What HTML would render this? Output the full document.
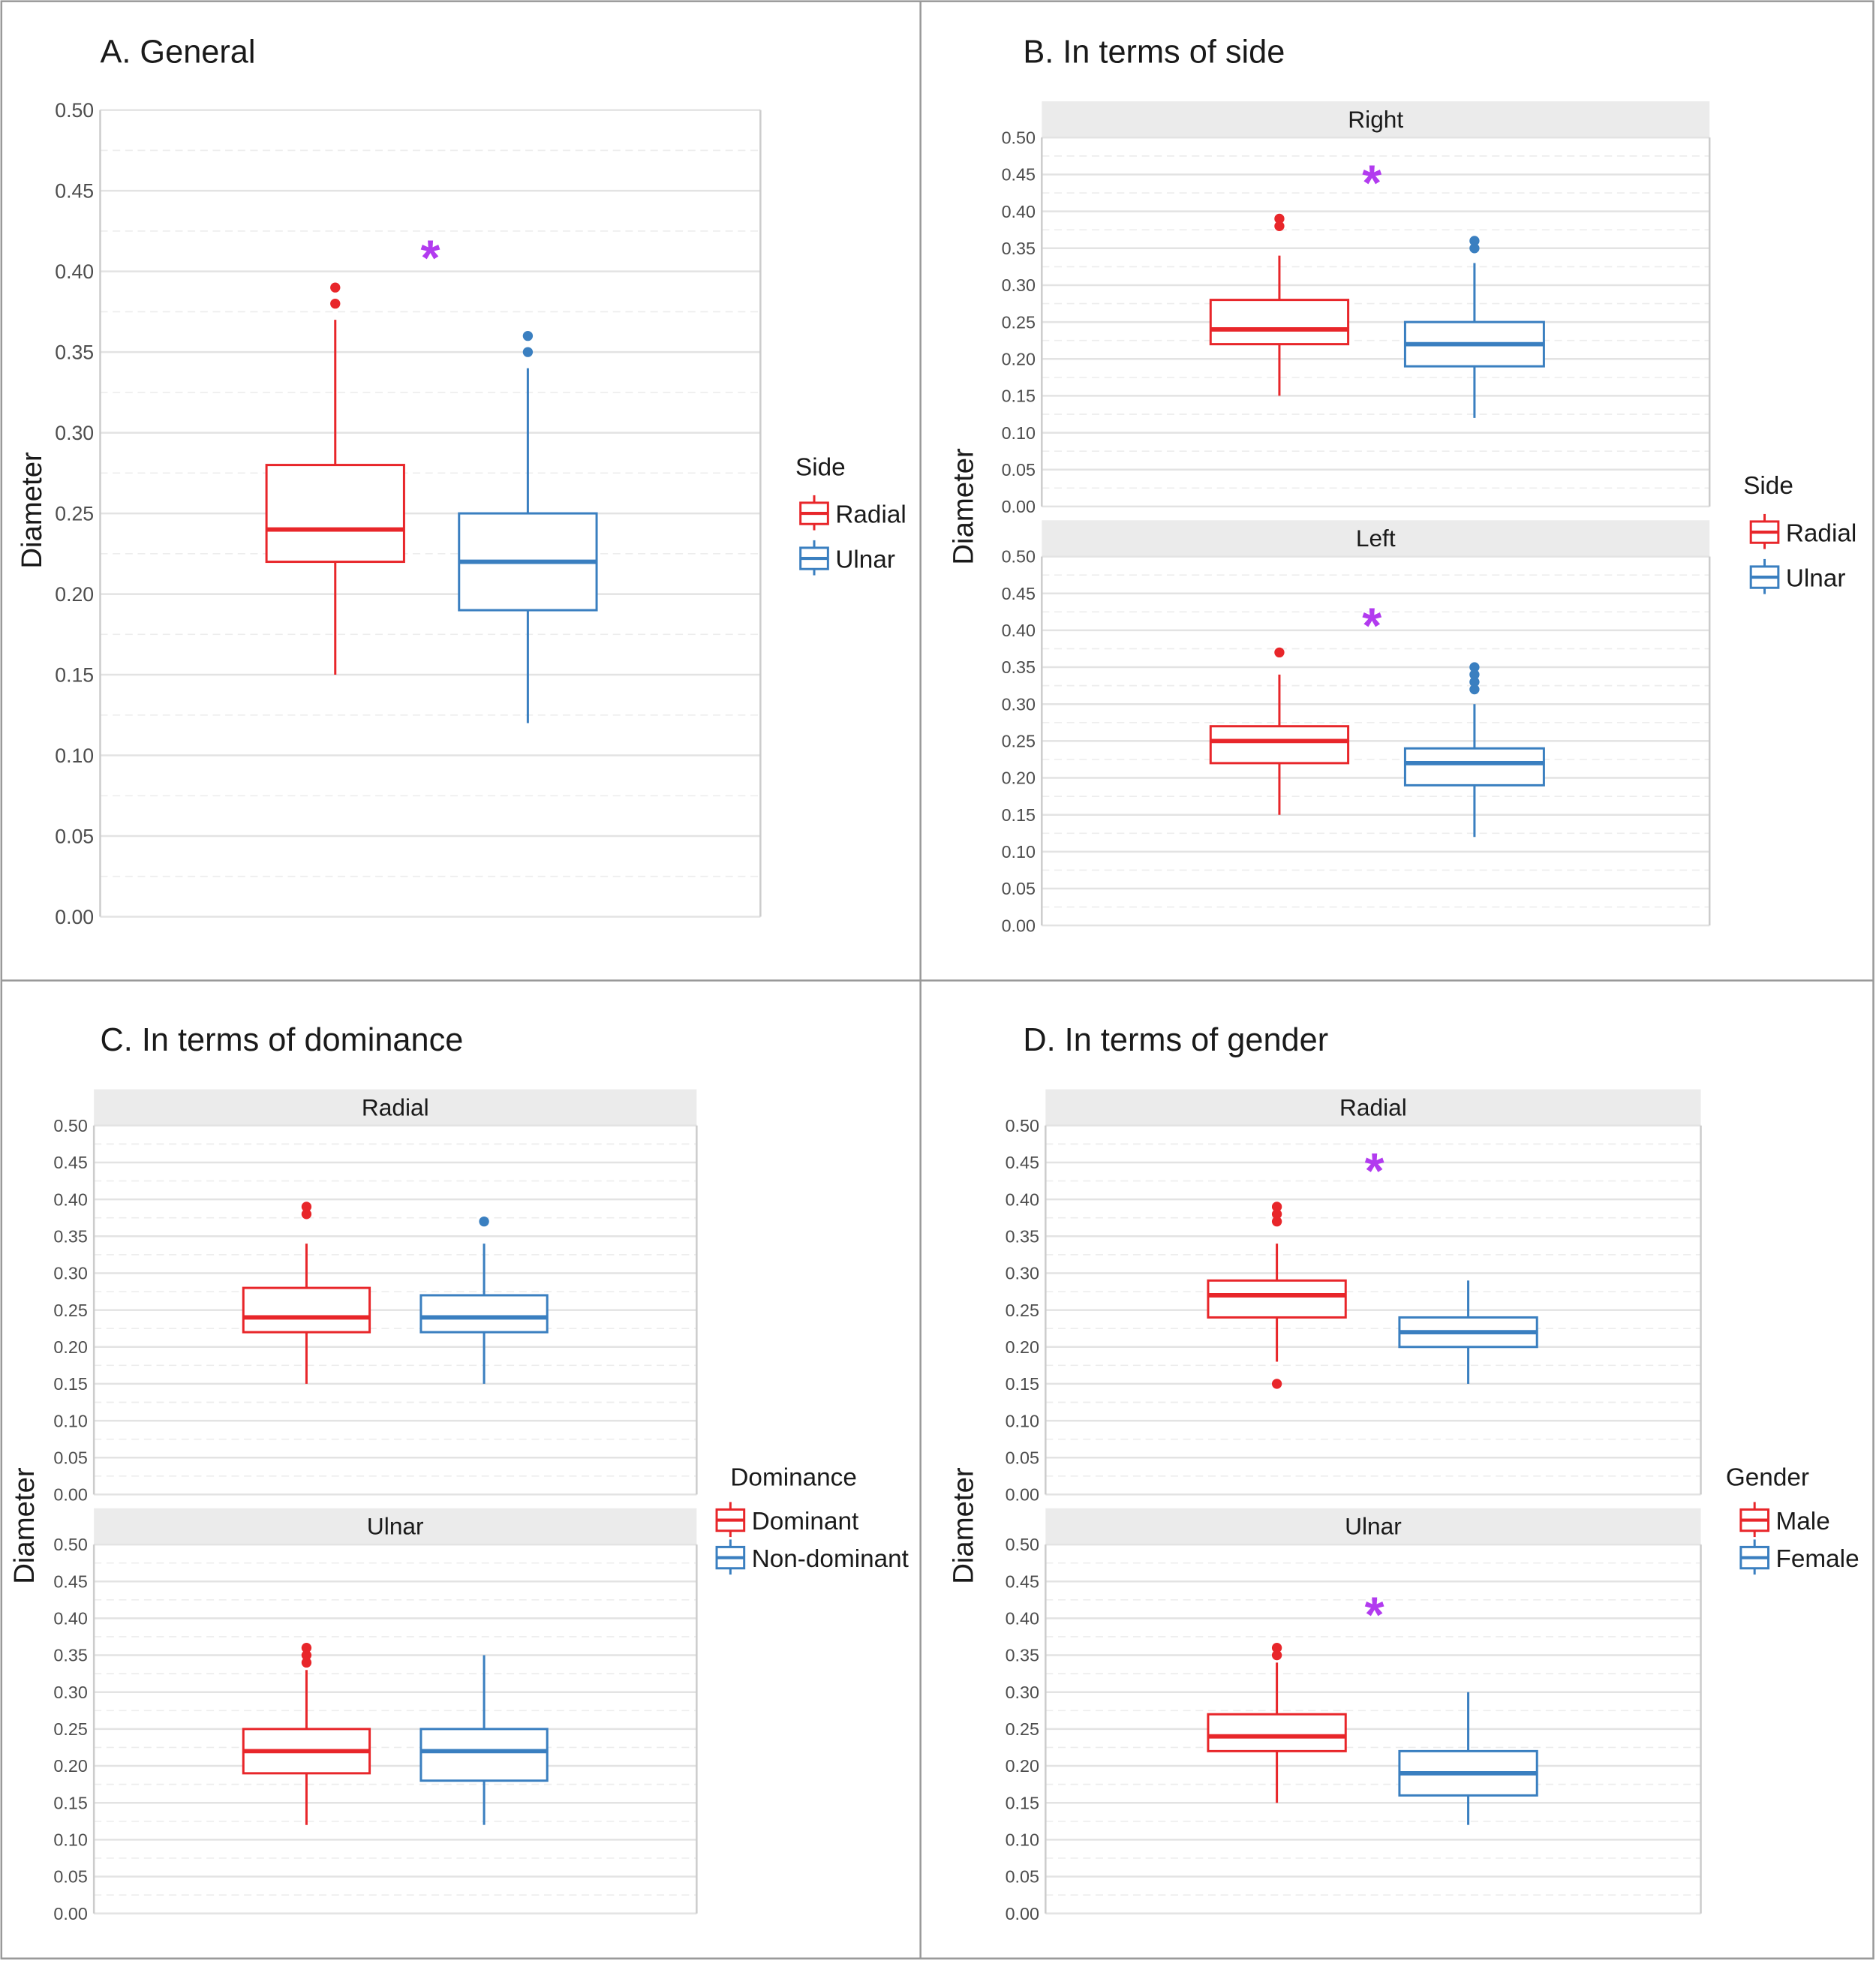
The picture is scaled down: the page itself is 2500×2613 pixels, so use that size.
<!DOCTYPE html>
<html><head><meta charset="utf-8"><style>
html,body{margin:0;padding:0;background:#fff}
svg{display:block}
text{font-family:"Liberation Sans",sans-serif}
</style></head><body>
<svg id="chart" width="2500" height="2613" viewBox="0 0 1500 1568">
<rect x="1" y="1" width="1497" height="1565" fill="#fff" stroke="#999" stroke-width="1.5"/>
<line x1="736" y1="1" x2="736" y2="1566" stroke="#999" stroke-width="1.5"/>
<line x1="1" y1="784" x2="1498" y2="784" stroke="#999" stroke-width="1.5"/>
</svg>
<script>
// ---- data ----
const yTicks = [0.00,0.05,0.10,0.15,0.20,0.25,0.30,0.35,0.40,0.45,0.50];
const yTickLabels = ["0.00","0.05","0.10","0.15","0.20","0.25","0.30","0.35","0.40","0.45","0.50"];
const panelTitles = ["A. General","B. In terms of side","C. In terms of dominance","D. In terms of gender"];
// box stats: [lowerWhisker, q1, median, q3, upperWhisker]
const generalRadial = [0.15,0.22,0.24,0.28,0.37];
const generalUlnar = [0.12,0.19,0.22,0.25,0.34];
const generalRadialOut = [0.38,0.39];
const generalUlnarOut = [0.35,0.36];
const rightRadial = [0.15,0.22,0.24,0.28,0.34];
const rightUlnar = [0.12,0.19,0.22,0.25,0.33];
const rightRadialOut = [0.38,0.39];
const rightUlnarOut = [0.35,0.36];
const leftRadial = [0.15,0.22,0.25,0.27,0.34];
const leftUlnar = [0.12,0.19,0.22,0.24,0.30];
const leftRadialOut = [0.37];
const leftUlnarOut = [0.32,0.33,0.34,0.35];
const radialDominant = [0.15,0.22,0.24,0.28,0.34];
const radialNonDominant = [0.15,0.22,0.24,0.27,0.34];
const radialDominantOut = [0.38,0.39];
const radialNonDominantOut = [0.37];
const ulnarDominant = [0.12,0.19,0.22,0.25,0.33];
const ulnarNonDominant = [0.12,0.18,0.22,0.25,0.35];
const ulnarDominantOut = [0.34,0.35,0.36];
const ulnarNonDominantOut = [];
const radialMale = [0.18,0.24,0.27,0.29,0.34];
const radialFemale = [0.15,0.20,0.22,0.24,0.29];
const radialMaleOut = [0.15,0.37,0.38,0.39];
const radialFemaleOut = [];
const ulnarMale = [0.15,0.22,0.24,0.27,0.34];
const ulnarFemale = [0.12,0.16,0.19,0.22,0.30];
const ulnarMaleOut = [0.35,0.36];
const ulnarFemaleOut = [];

const RED="#e8262a", BLUE="#3a7fc0", NS="http://www.w3.org/2000/svg";
const svg=document.getElementById('chart');
function mk(tag,attrs,parent,txt){const e=document.createElementNS(NS,tag);for(const k in attrs)e.setAttribute(k,attrs[k]);if(txt!==undefined)e.textContent=txt;(parent||svg).appendChild(e);return e;}

function panel(x0,x1,yTop,yBot,fs,name,strip){
  const g=mk('g',{});
  
  
  const ys=v=>yBot-(v/0.5)*(yBot-yTop);
  if(strip){
    const s=mk('rect',{x:x0,y:yTop-29,width:x1-x0,height:29,fill:'#ebebeb'},g);
    
    
    const st=mk('text',{x:(x0+x1)/2,y:yTop-8,'font-size':19,'text-anchor':'middle',fill:'#1a1a1a'},g,strip);
    
    
  }
  for(let i=0;i<yTicks.length;i++){
    const y=ys(yTicks[i]);
    const gl=mk('line',{x1:x0,x2:x1,y1:y,y2:y,stroke:'#e3e3e3','stroke-width':1.5},g);
    
    
    if(i<yTicks.length-1){const ym=ys(yTicks[i]+0.025);
      const mn=mk('line',{x1:x0,x2:x1,y1:ym,y2:ym,stroke:'#ededed','stroke-width':1,'stroke-dasharray':'6,4'},g);
      
      }
    const t=mk('text',{x:x0-5,y:y+fs*0.35,'font-size':fs,'text-anchor':'end',fill:'#4d4d4d'},g,yTickLabels[i]);
    
    
  }
  mk('line',{x1:x0,x2:x0,y1:yTop,y2:yBot,stroke:'#ccc','stroke-width':1.5},g);
  mk('line',{x1:x1,x2:x1,y1:yTop,y2:yBot,stroke:'#ccc','stroke-width':1.5},g);
  return {g,ys};
}
function box(p,cx,w,st,outs,color,name){
  const ys=p.ys,g=mk('g',{},p.g);
  
  
  mk('line',{x1:cx,x2:cx,y1:ys(st[0]),y2:ys(st[1]),stroke:color,'stroke-width':1.8},g);
  mk('line',{x1:cx,x2:cx,y1:ys(st[3]),y2:ys(st[4]),stroke:color,'stroke-width':1.8},g);
  mk('rect',{x:cx-w/2,y:ys(st[3]),width:w,height:ys(st[1])-ys(st[3]),fill:'#fff',stroke:color,'stroke-width':1.8},g);
  mk('line',{x1:cx-w/2,x2:cx+w/2,y1:ys(st[2]),y2:ys(st[2]),stroke:color,'stroke-width':3.5},g);
  outs.forEach(v=>{const c=mk('circle',{cx:cx,cy:ys(v),r:4,fill:color},g);
    
    });
}
function star(x,y){const s=mk('text',{x:x,y:y+20,'font-size':40,'text-anchor':'middle',fill:'#b23bef','font-weight':'bold'},svg,'*');
  
  }
function title(x,y,t){const e=mk('text',{x:x,y:y,'font-size':26,fill:'#1a1a1a'},svg,t);
  
  }
function ylab(x,y){const e=mk('text',{x:0,y:0,'font-size':23,'text-anchor':'middle',fill:'#1a1a1a',transform:`translate(${x},${y}) rotate(-90)`},svg,'Diameter');
  
  }
function legend(x,y,tx,ttl,labels,gap,ky0){
  const g=mk('g',{});
  
  
  mk('text',{x:tx,y:y,'font-size':20,fill:'#1a1a1a'},g,ttl);
  labels.forEach((l,i)=>{const c=i?BLUE:RED,ky=ky0+i*gap;
    const e=mk('g',{},g);
    
    
    mk('line',{x1:x+11,x2:x+11,y1:ky-4,y2:ky+24,stroke:c,'stroke-width':1.8},e);
    mk('rect',{x:x,y:ky+2,width:22,height:17,fill:'#fff',stroke:c,'stroke-width':1.8},e);
    mk('line',{x1:x,x2:x+22,y1:ky+10.5,y2:ky+10.5,stroke:c,'stroke-width':2.5},e);
    mk('text',{x:x+28,y:ky+18,'font-size':20,fill:'#1a1a1a'},e,l);});
}
// A
title(80,50,panelTitles[0]);
let p=panel(80,608,88,733,16,'panel-general');
box(p,268,110,generalRadial,generalRadialOut,RED,'box-radial');
box(p,422,110,generalUlnar,generalUlnarOut,BLUE,'box-ulnar');
star(344,200); ylab(33,408); legend(640,380,636,'Side',['Radial','Ulnar'],36,400);
// B
title(818,50,panelTitles[1]);
p=panel(833,1367,110,405,14,'panel-right','Right');
box(p,1023,110,rightRadial,rightRadialOut,RED,'box-right-radial');
box(p,1179,111,rightUlnar,rightUlnarOut,BLUE,'box-right-ulnar');
star(1097,140);
p=panel(833,1367,445,740,14,'panel-left','Left');
box(p,1023,110,leftRadial,leftRadialOut,RED,'box-left-radial');
box(p,1179,111,leftUlnar,leftUlnarOut,BLUE,'box-left-ulnar');
star(1097,494); ylab(778,405); legend(1400,395,1394,'Side',['Radial','Ulnar'],36,415);
// C
title(80,840,panelTitles[2]);
p=panel(75,557,900,1195,14,'panel-c-radial','Radial');
box(p,245,101,radialDominant,radialDominantOut,RED,'box-radial-dominant');
box(p,387,101,radialNonDominant,radialNonDominantOut,BLUE,'box-radial-nondominant');
p=panel(75,557,1235,1530,14,'panel-c-ulnar','Ulnar');
box(p,245,101,ulnarDominant,ulnarDominantOut,RED,'box-ulnar-dominant');
box(p,387,101,ulnarNonDominant,ulnarNonDominantOut,BLUE,'box-ulnar-nondominant');
ylab(27,1220); legend(573,1188,584,'Dominance',['Dominant','Non-dominant'],30,1205);
// D
title(818,840,panelTitles[3]);
p=panel(836,1360,900,1195,14,'panel-d-radial','Radial');
box(p,1021,110,radialMale,radialMaleOut,RED,'box-radial-male');
box(p,1174,110,radialFemale,radialFemaleOut,BLUE,'box-radial-female');
star(1099,930);
p=panel(836,1360,1235,1530,14,'panel-d-ulnar','Ulnar');
box(p,1021,110,ulnarMale,ulnarMaleOut,RED,'box-ulnar-male');
box(p,1174,110,ulnarFemale,ulnarFemaleOut,BLUE,'box-ulnar-female');
star(1099,1285); ylab(778,1220); legend(1392,1188,1380,'Gender',['Male','Female'],30,1205);
</script>
</body></html>
